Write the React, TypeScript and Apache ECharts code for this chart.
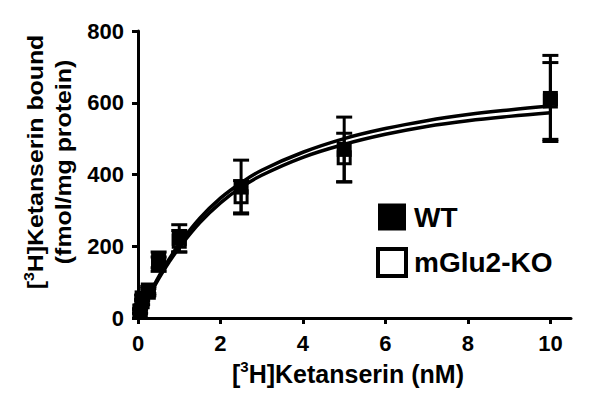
import React, { useEffect, useRef } from "react";
import * as echarts from "echarts";

// Saturation binding data ([3H]Ketanserin, nM)
const concentrations = [0.05, 0.1, 0.25, 0.5, 1, 2.5, 5, 10];
const wtBound = [20, 56, 78, 162, 222, 365, 470, 612];
const wtSem = [6, 8, 10, 22, 38, 75, 90, 120];
const koBound = [18, 45, 72, 150, 214, 338, 447, 605];
const koSem = [5, 8, 10, 20, 30, 45, 68, 107];

// Fitted one-site curves
const fitX = [0, 0.25, 0.5, 0.75, 1, 1.5, 2, 2.5, 3, 4, 5, 6, 7, 8, 9, 10];
const wtFit = [0, 60, 115, 163, 206, 278, 334, 377, 412, 462, 500, 528, 550, 567, 580, 591];
const koFit = [0, 57, 109, 155, 196, 266, 321, 364, 398, 448, 484, 512, 534, 550, 562, 572];

const xTicks = [0, 2, 4, 6, 8, 10];
const seriesNames = ["WT", "mGlu2-KO"];

const FONT = "'Liberation Sans', Arial, Helvetica, sans-serif";

function errorBarItem(params: any, api: any) {
  const x = api.value(0);
  const lo = api.coord([x, api.value(1)]);
  const hi = api.coord([x, api.value(2)]);
  const half = 8;
  const style = { stroke: "#000", lineWidth: 3 };
  return {
    type: "group",
    children: [
      { type: "line", shape: { x1: lo[0], y1: lo[1], x2: hi[0], y2: hi[1] }, style },
      { type: "line", shape: { x1: lo[0] - half, y1: lo[1], x2: lo[0] + half, y2: lo[1] }, style },
      { type: "line", shape: { x1: hi[0] - half, y1: hi[1], x2: hi[0] + half, y2: hi[1] }, style },
    ],
  };
}

export default function App() {
  const ref = useRef<HTMLDivElement>(null);

  useEffect(() => {
    if (!ref.current) return;
    const chart = echarts.init(ref.current, undefined, { renderer: "svg" });

    const wtPoints = concentrations.map((c, i) => [c, wtBound[i]]);
    const koPoints = concentrations.map((c, i) => [c, koBound[i]]);
    const wtErr = concentrations.map((c, i) => [c, wtBound[i] - wtSem[i], wtBound[i] + wtSem[i]]);
    const koErr = concentrations.map((c, i) => [c, koBound[i] - koSem[i], koBound[i] + koSem[i]]);
    const wtCurve = fitX.map((c, i) => [c, wtFit[i]]);
    const koCurve = fitX.map((c, i) => [c, koFit[i]]);

    const labelStyle = { color: "#000", fontWeight: "bold" as const, fontFamily: FONT };

    chart.setOption({
      animation: false,
      backgroundColor: "#fff",
      grid: { left: 138, right: 29, top: 31, bottom: 85, containLabel: false },
      xAxis: {
        type: "value",
        min: 0,
        max: 10.5,
        interval: 2,
        splitLine: { show: false },
        axisLine: { show: true, onZero: false, lineStyle: { color: "#000", width: 3 } },
        axisTick: { show: true, length: 6, lineStyle: { color: "#000", width: 3 }, customValues: xTicks },
        axisLabel: { ...labelStyle, fontSize: 22, margin: 14, customValues: xTicks },
      },
      yAxis: {
        type: "value",
        min: 0,
        max: 800,
        interval: 200,
        splitLine: { show: false },
        axisLine: { show: true, onZero: false, lineStyle: { color: "#000", width: 3 } },
        axisTick: { show: true, length: 6, lineStyle: { color: "#000", width: 3 } },
        axisLabel: { ...labelStyle, fontSize: 22, margin: 14 },
      },
      legend: {
        orient: "vertical",
        left: 376,
        top: 203,
        padding: 0,
        itemWidth: 28,
        itemHeight: 27,
        itemGap: 16,
        selectedMode: false,
        textStyle: { ...labelStyle, fontSize: 28, padding: [0, 0, 0, 3] },
        data: [
          { name: seriesNames[0], icon: "rect", itemStyle: { borderWidth: 0, opacity: 1 } },
          { name: seriesNames[1], icon: "rect", itemStyle: { borderWidth: 4, borderColor: "#000", opacity: 1 } },
        ],
      },
      graphic: [
        {
          type: "text",
          x: 50,
          y: 162,
          rotation: Math.PI / 2,
          scaleX: 1.13,
          style: {
            text: "[{sup|3}H]Ketanserin bound\n(fmol/mg protein)",
            fontSize: 22,
            fontWeight: "bold",
            fontFamily: FONT,
            fill: "#000",
            align: "center",
            verticalAlign: "middle",
            lineHeight: 28,
            rich: {
              sup: { fontSize: 14, fontWeight: "bold", fontFamily: FONT, fill: "#000", verticalAlign: "top", lineHeight: 28 },
            },
          },
        },
        {
          type: "text",
          x: 348,
          y: 374,
          style: {
            text: "[{sup|3}H]Ketanserin (nM)",
            fontSize: 25,
            fontWeight: "bold",
            fontFamily: FONT,
            fill: "#000",
            align: "center",
            verticalAlign: "middle",
            lineHeight: 30,
            rich: {
              sup: { fontSize: 15, fontWeight: "bold", fontFamily: FONT, fill: "#000", verticalAlign: "top", lineHeight: 30 },
            },
          },
        },
      ],
      series: [
        {
          name: seriesNames[1],
          type: "scatter",
          symbol: "rect",
          symbolSize: 12,
          itemStyle: { color: "#fff", borderColor: "#000", borderWidth: 3, opacity: 1 },
          data: koPoints,
          z: 2,
        },
        {
          name: seriesNames[0],
          type: "scatter",
          symbol: "rect",
          symbolSize: 15,
          itemStyle: { color: "#000", opacity: 1 },
          data: wtPoints,
          z: 3,
        },
        {
          name: "WT fit",
          type: "line",
          smooth: 0.4,
          showSymbol: false,
          symbol: "none",
          lineStyle: { color: "#000", width: 3.5 },
          data: wtCurve,
          z: 4,
        },
        {
          name: "KO fit",
          type: "line",
          smooth: 0.4,
          showSymbol: false,
          symbol: "none",
          lineStyle: { color: "#000", width: 3.5 },
          data: koCurve,
          z: 4,
        },
        {
          name: "WT err",
          type: "custom",
          renderItem: errorBarItem,
          encode: { x: 0, y: [1, 2] },
          data: wtErr,
          z: 5,
        },
        {
          name: "KO err",
          type: "custom",
          renderItem: errorBarItem,
          encode: { x: 0, y: [1, 2] },
          data: koErr,
          z: 5,
        },
      ],
    });

    return () => chart.dispose();
  }, []);

  return (
    <div
      ref={ref}
      style={{ position: "absolute", left: 0, top: 0, width: 600, height: 403, background: "#fff" }}
    />
  );
}
